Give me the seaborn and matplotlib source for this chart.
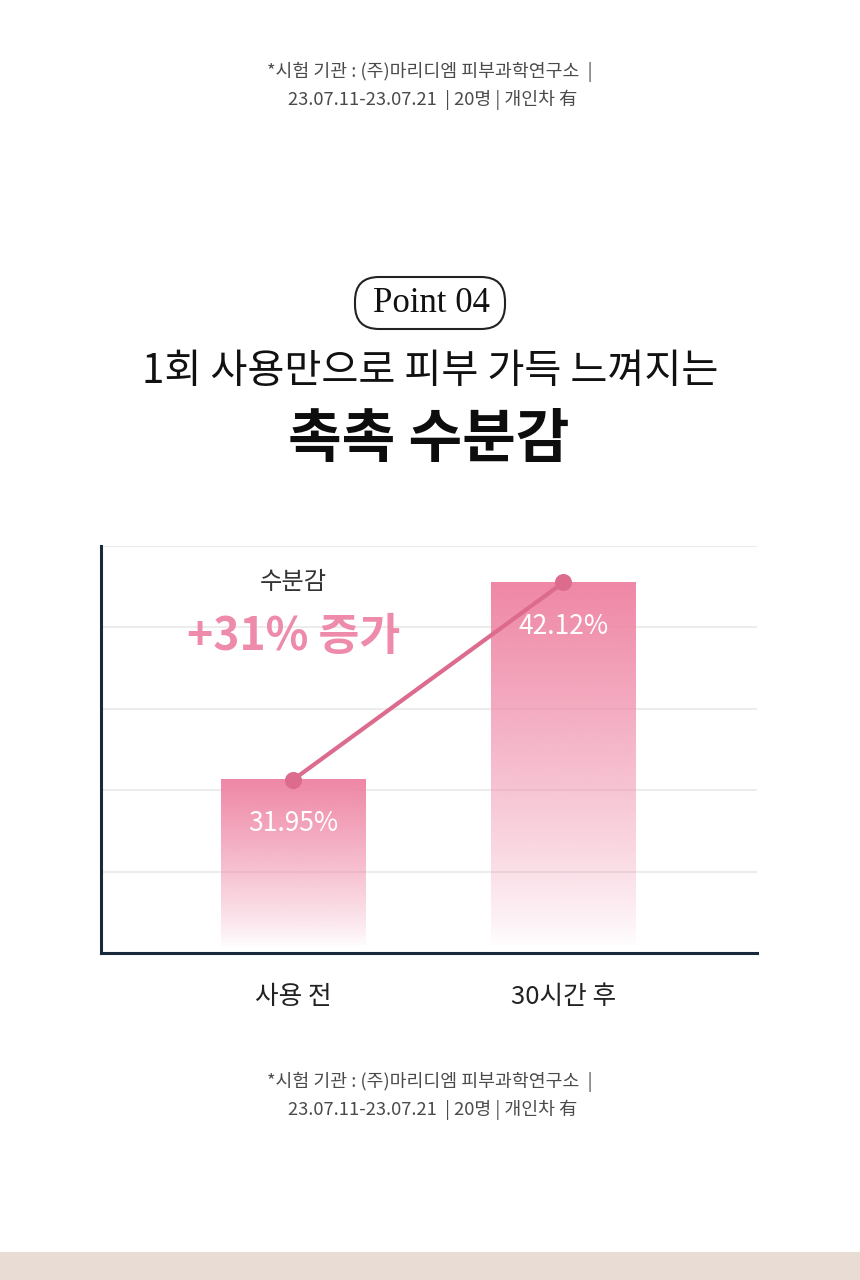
import numpy as np
import matplotlib
matplotlib.use("Agg")
import matplotlib.pyplot as plt
import seaborn as sns
from matplotlib.patches import FancyBboxPatch, Rectangle

# data
categories = ["사용 전", "30시간 후"]
values = [31.95, 42.12]
value_labels = ["31.95%", "42.12%"]
note_lines = ["*시험 기관 : (주)마리디엠 피부과학연구소  |",
              "23.07.11-23.07.21  | 20명 | 개인차 有"]

sns.set_theme(style="white")
plt.rcParams['font.family'] = ['Noto Sans CJK KR', 'DejaVu Sans']

fig = plt.figure(figsize=(8.6, 12.8), dpi=100)
fig.patch.set_facecolor("white")

# chart area
ax = fig.add_axes([101 / 860, 1 - 953 / 1280, 656 / 860, 407 / 1280])
sns.barplot(x=categories, y=values, ax=ax, width=0.537, color="#f08aa8", saturation=1)

ymin, ymax = 23, 44
top_rgb = np.array([239, 135, 166]) / 255
t = np.linspace(0, 1, 256)
grad = np.zeros((256, 1, 4))
grad[:, 0, :3] = top_rgb
grad[:, 0, 3] = t ** 0.85

# swap the flat bars for a pink-to-white fade
for patch in ax.patches:
    x0 = patch.get_x()
    w = patch.get_width()
    h = patch.get_height()
    patch.set_alpha(0)
    ax.imshow(grad, extent=[x0, x0 + w, ymin + 0.25, h], origin="lower",
              aspect="auto", zorder=1, interpolation="bilinear")

sns.pointplot(x=categories, y=values, ax=ax, color="#dc6b8e",
              markersize=10, linewidth=3, errorbar=None)
for ln in ax.lines:
    ln.set_zorder(3)

for i, (v, lab) in enumerate(zip(values, value_labels)):
    ax.annotate(lab, (i, v), xytext=(0, -32), textcoords="offset points",
                ha="center", va="center", color="white", fontsize=19, zorder=4)

ax.set_xlim(-0.713, 1.717)
ax.set_ylim(ymin, ymax)
ax.set_yticks(np.linspace(ymin, ymax, 6))
ax.set_yticklabels([])
ax.yaxis.grid(True, color="#ececec", linewidth=1.5)
ax.set_axisbelow(True)
ax.set_xlabel("")
ax.set_ylabel("")
ax.tick_params(axis="x", length=0, pad=22, labelsize=18.5, labelcolor="#222222")
ax.tick_params(axis="y", length=0)
sns.despine(ax=ax)
for side in ["left", "bottom"]:
    ax.spines[side].set_color("#17293a")
    ax.spines[side].set_linewidth(2.2)

# overlay in pixel coordinates for the surrounding text
ov = fig.add_axes([0, 0, 1, 1], zorder=5)
ov.set_xlim(0, 860)
ov.set_ylim(1280, 0)
ov.axis("off")
ov.patch.set_alpha(0)

for y0 in (72, 1082):
    ov.text(430, y0, note_lines[0], ha="center", va="center", fontsize=13.2, color="#4a4a4a")
    ov.text(433, y0 + 28, note_lines[1], ha="center", va="center", fontsize=13.2, color="#4a4a4a")

ov.add_patch(FancyBboxPatch((361, 283), 138, 40, boxstyle="round,pad=6,rounding_size=24",
                            fc="white", ec="#222222", lw=1.5))
ov.text(431, 304, "Point 04", ha="center", va="center", fontsize=25,
        family="Liberation Serif", color="#111111")

ov.text(430, 372, "1회 사용만으로 피부 가득 느껴지는", ha="center", va="center",
        fontsize=29, weight="medium", color="#111111")
ov.text(429, 440, "촉촉 수분감", ha="center", va="center", fontsize=42,
        weight="bold", color="#0d0d0d")

ov.text(293, 582, "수분감", ha="center", va="center", fontsize=17.5, color="#333333")
ov.text(294, 637, "+31% 증가", ha="center", va="center", fontsize=32,
        weight="bold", color="#ee8bab")

ov.add_patch(Rectangle((0, 1252), 860, 28, color="#e8dcd5", lw=0))

fig.savefig("out.png", dpi=100)
